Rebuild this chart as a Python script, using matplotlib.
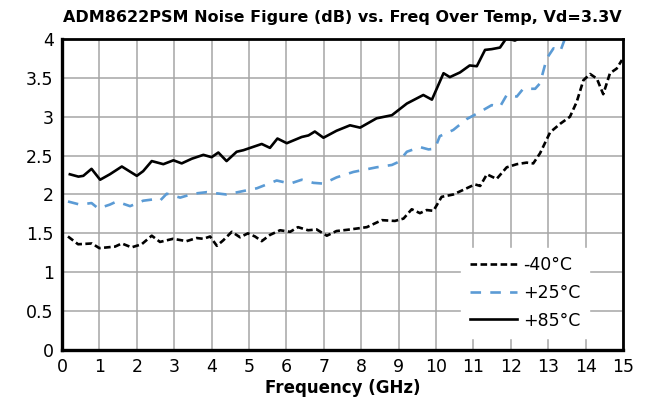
import matplotlib
matplotlib.use("Agg")
import matplotlib.pyplot as plt

# ── data ─────────────────────────────────────────────────────
freq_m40 = [0.16, 0.43, 0.8, 1.0, 1.42, 1.6, 1.86, 2.13, 2.4, 2.62, 2.97, 3.33, 3.6,
            3.78, 3.96, 4.14, 4.31, 4.54, 4.76, 4.97, 5.16, 5.34, 5.56, 5.83, 6.1,
            6.31, 6.58, 6.81, 7.08, 7.34, 7.7, 8.15, 8.55, 8.9, 9.13, 9.35, 9.57,
            9.75, 9.93, 10.15, 10.46, 10.73, 11.04, 11.18, 11.36, 11.62, 11.89,
            12.16, 12.42, 12.6, 12.78, 13.05, 13.32, 13.58, 13.76, 13.94, 14.12,
            14.3, 14.47, 14.65, 14.83, 14.97]
nf_m40 = [1.46, 1.36, 1.37, 1.31, 1.33, 1.37, 1.32, 1.36, 1.47, 1.39, 1.43, 1.40, 1.44,
          1.43, 1.46, 1.34, 1.41, 1.52, 1.45, 1.50, 1.46, 1.40, 1.48, 1.54, 1.52,
          1.58, 1.54, 1.55, 1.47, 1.53, 1.55, 1.58, 1.67, 1.66, 1.69, 1.81, 1.76,
          1.80, 1.79, 1.97, 2.00, 2.06, 2.13, 2.11, 2.26, 2.20, 2.35,
          2.39, 2.41, 2.40, 2.53, 2.80, 2.91, 3.00, 3.19, 3.47, 3.55,
          3.49, 3.29, 3.56, 3.62, 3.73]

freq_p25 = [0.16, 0.48, 0.79, 0.97, 1.28, 1.46, 1.82, 2.17, 2.49, 2.62, 2.8, 3.16,
            3.51, 3.87, 4.4, 4.8, 5.21, 5.74, 6.1, 6.41, 6.72, 6.99, 7.34, 7.79,
            8.41, 8.82, 9.0, 9.22, 9.57, 9.8, 9.97, 10.1, 10.46, 10.82, 11.13,
            11.49, 11.71, 11.89, 12.16, 12.33, 12.65, 12.78, 12.96, 13.14, 13.32,
            13.45, 13.6]
nf_p25 = [1.91, 1.87, 1.89, 1.82, 1.87, 1.91, 1.85, 1.92, 1.94, 1.92, 2.01, 1.96,
          2.01, 2.03, 2.00, 2.04, 2.08, 2.18, 2.14, 2.19, 2.15, 2.14, 2.22, 2.29,
          2.35, 2.38, 2.42, 2.55, 2.61, 2.58, 2.59, 2.75, 2.83, 2.97, 3.05,
          3.15, 3.13, 3.28, 3.26, 3.36, 3.36, 3.43, 3.75, 3.88, 3.84,
          4.01, 4.2]

freq_p85 = [0.21, 0.44, 0.57, 0.79, 1.02, 1.28, 1.6, 2.0, 2.17, 2.4, 2.71, 2.98, 3.2,
            3.47, 3.78, 4.0, 4.18, 4.4, 4.67, 4.85, 5.34, 5.56, 5.76, 6.01, 6.41,
            6.59, 6.76, 6.99, 7.34, 7.7, 7.97, 8.41, 8.82, 9.22, 9.66, 9.89, 10.2,
            10.37, 10.64, 10.9, 11.09, 11.31, 11.49, 11.71, 11.88, 12.11, 12.3, 12.5]
nf_p85 = [2.26, 2.23, 2.24, 2.33, 2.19, 2.26, 2.36, 2.24, 2.30, 2.43, 2.39, 2.44, 2.40,
          2.46, 2.51, 2.48, 2.54, 2.43, 2.55, 2.57, 2.65, 2.60, 2.72, 2.66, 2.74,
          2.76, 2.81, 2.73, 2.82, 2.89, 2.86, 2.98, 3.02, 3.17, 3.28, 3.22, 3.56,
          3.51, 3.57, 3.66, 3.65, 3.86, 3.87, 3.89, 4.01, 3.98, 4.03, 4.1]

x_ticks = list(range(0, 16))
y_ticks = [0, 0.5, 1, 1.5, 2, 2.5, 3, 3.5, 4]
y_labels = ["0", "0.5", "1", "1.5", "2", "2.5", "3", "3.5", "4"]

# ── figure ───────────────────────────────────────────────────
fig = plt.figure(figsize=(6.47, 4.09), dpi=100)
ax = fig.add_axes([0.0958, 0.1443, 0.8672, 0.7603])

ax.plot(freq_m40, nf_m40, color="black", lw=1.9, ls=(0, (2.5, 1.3)), label="-40°C")
ax.plot(freq_p25, nf_p25, color="#5b9bd5", lw=1.9, ls=(0, (4, 3.5)), label="+25°C")
ax.plot(freq_p85, nf_p85, color="black", lw=1.9, label="+85°C")

ax.set_xlim(0, 15)
ax.set_ylim(0, 4)
ax.set_xticks(x_ticks)
ax.set_yticks(y_ticks)
ax.set_yticklabels(y_labels)
ax.tick_params(length=0, labelsize=12.5, pad=6)
ax.grid(True, color="#a6a6a6", lw=1.1)
ax.set_axisbelow(True)
for side in ["left", "bottom"]:
    ax.spines[side].set_linewidth(2.4)
for side in ["top", "right"]:
    ax.spines[side].set_linewidth(2.0)

ax.set_title("ADM8622PSM Noise Figure (dB) vs. Freq Over Temp, Vd=3.3V",
             fontsize=11.5, fontweight="bold", pad=12)
ax.set_xlabel("Frequency (GHz)", fontsize=12, fontweight="bold", labelpad=2)

leg = ax.legend(loc="lower right", bbox_to_anchor=(0.955, 0.01), frameon=True,
                fontsize=12.5, handlelength=2.7, handletextpad=0.35,
                labelspacing=0.55, borderpad=0.5, fancybox=False)
leg.get_frame().set_edgecolor("white")
leg.get_frame().set_facecolor("white")
leg.get_frame().set_alpha(1)

fig.savefig("out.png", dpi=100)
